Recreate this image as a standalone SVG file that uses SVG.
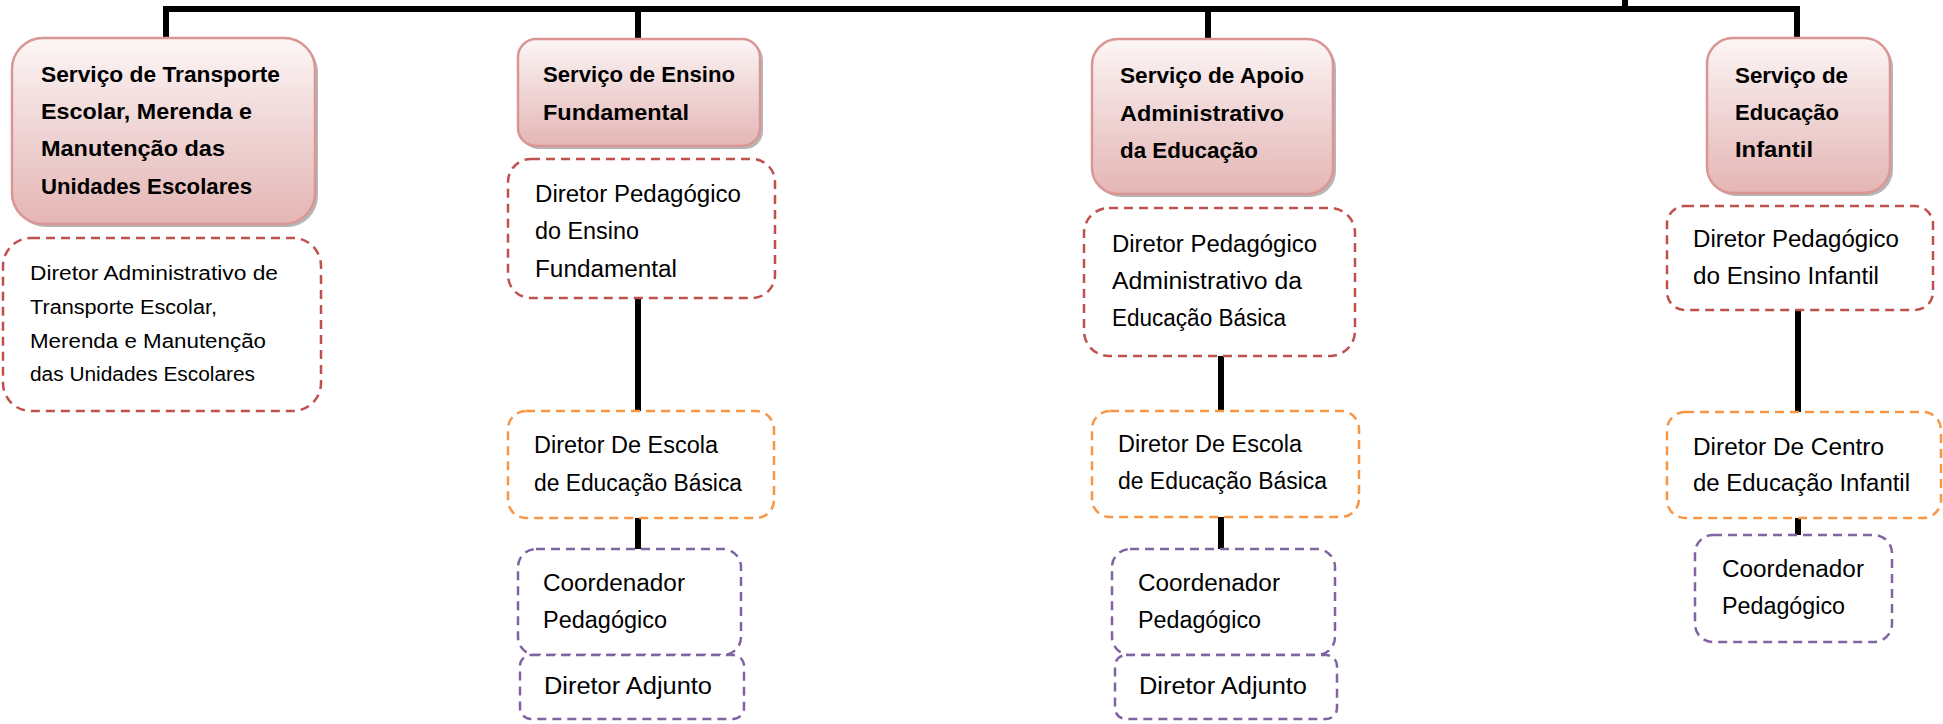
<svg xmlns="http://www.w3.org/2000/svg" width="1943" height="724" viewBox="0 0 1943 724">
<defs>
<linearGradient id="pg" x1="0" y1="0" x2="0" y2="1">
<stop offset="0" stop-color="#FDF6F6"/>
<stop offset="0.35" stop-color="#F3DEDE"/>
<stop offset="1" stop-color="#E4B6B5"/>
</linearGradient>
<style>
.svc{fill:url(#pg);stroke:#D99694;stroke-width:2.5}
.sh{fill:#9E9E9E;opacity:0.75}
.d{fill:#FFFFFF;stroke-width:2.5;stroke-dasharray:9 6}
.r{stroke:#C0504D}
.o{stroke:#F79646}
.p{stroke:#8064A2}
.b{font-family:"Liberation Sans",Arial,sans-serif;font-weight:bold;font-size:22.5px;fill:#000}
.t{font-family:"Liberation Sans",Arial,sans-serif;font-size:23px;fill:#000}
.s{font-family:"Liberation Sans",Arial,sans-serif;font-size:20px;fill:#000}
.c{stroke:#000;stroke-width:6;fill:none}
</style>
</defs>
<rect width="1943" height="724" fill="#FFFFFF"/>
<g id="connectors">
<path class="c" d="M163 9 H1800"/>
<path class="c" d="M1625 0 V9"/>
<path class="c" d="M166 9 V39"/>
<path class="c" d="M638 9 V40"/>
<path class="c" d="M1208 9 V40"/>
<path class="c" d="M1797 6 V39"/>
<path class="c" d="M638 298 V411"/>
<path class="c" d="M638 518 V549"/>
<path class="c" d="M1221 356 V411"/>
<path class="c" d="M1221 517 V549"/>
<path class="c" d="M1798 310 V412"/>
<path class="c" d="M1798 518 V535"/>
</g>
<g id="svc-transporte">
<rect class="sh" x="15" y="41" width="303" height="186" rx="31"/>
<rect class="svc" x="12" y="38" width="303" height="186" rx="31"/>
<text class="b" x="41" y="82" textLength="239" lengthAdjust="spacingAndGlyphs">Serviço de Transporte</text>
<text class="b" x="41" y="119" textLength="211" lengthAdjust="spacingAndGlyphs">Escolar, Merenda e</text>
<text class="b" x="41" y="156" textLength="184" lengthAdjust="spacingAndGlyphs">Manutenção das</text>
<text class="b" x="41" y="194" textLength="211" lengthAdjust="spacingAndGlyphs">Unidades Escolares</text>
</g>
<g id="dir-transporte">
<rect class="d r" x="3" y="238" width="318" height="173" rx="28"/>
<text class="s" x="30" y="280" textLength="248" lengthAdjust="spacingAndGlyphs">Diretor Administrativo de</text>
<text class="s" x="30" y="314" textLength="187" lengthAdjust="spacingAndGlyphs">Transporte Escolar,</text>
<text class="s" x="30" y="348" textLength="236" lengthAdjust="spacingAndGlyphs">Merenda e Manutenção</text>
<text class="s" x="30" y="381" textLength="225" lengthAdjust="spacingAndGlyphs">das Unidades Escolares</text>
</g>
<g id="svc-fundamental">
<rect class="sh" x="521" y="42" width="242" height="107" rx="18"/>
<rect class="svc" x="518" y="39" width="242" height="107" rx="18"/>
<text class="b" x="543" y="82" textLength="192" lengthAdjust="spacingAndGlyphs">Serviço de Ensino</text>
<text class="b" x="543" y="120" textLength="146" lengthAdjust="spacingAndGlyphs">Fundamental</text>
</g>
<g id="dir-ped-fundamental">
<rect class="d r" x="508" y="159" width="267" height="139" rx="23"/>
<text class="t" x="535" y="202" textLength="206" lengthAdjust="spacingAndGlyphs">Diretor Pedagógico</text>
<text class="t" x="535" y="239" textLength="104" lengthAdjust="spacingAndGlyphs">do Ensino</text>
<text class="t" x="535" y="277" textLength="142" lengthAdjust="spacingAndGlyphs">Fundamental</text>
</g>
<g id="dir-escola-fundamental">
<rect class="d o" x="508" y="411" width="266" height="107" rx="18"/>
<text class="t" x="534" y="453" textLength="184" lengthAdjust="spacingAndGlyphs">Diretor De Escola</text>
<text class="t" x="534" y="491" textLength="208" lengthAdjust="spacingAndGlyphs">de Educação Básica</text>
</g>
<g id="coord-fundamental">
<rect class="d p" x="518" y="549" width="223" height="106" rx="18"/>
<text class="t" x="543" y="591" textLength="142" lengthAdjust="spacingAndGlyphs">Coordenador</text>
<text class="t" x="543" y="628" textLength="124" lengthAdjust="spacingAndGlyphs">Pedagógico</text>
</g>
<g id="adjunto-fundamental">
<rect class="d p" x="520" y="655" width="224" height="64" rx="11"/>
<text class="t" x="544" y="694" textLength="168" lengthAdjust="spacingAndGlyphs">Diretor Adjunto</text>
</g>
<g id="svc-apoio">
<rect class="sh" x="1095" y="42" width="241" height="155" rx="26"/>
<rect class="svc" x="1092" y="39" width="241" height="155" rx="26"/>
<text class="b" x="1120" y="83" textLength="184" lengthAdjust="spacingAndGlyphs">Serviço de Apoio</text>
<text class="b" x="1120" y="121" textLength="164" lengthAdjust="spacingAndGlyphs">Administrativo</text>
<text class="b" x="1120" y="158" textLength="138" lengthAdjust="spacingAndGlyphs">da Educação</text>
</g>
<g id="dir-ped-apoio">
<rect class="d r" x="1084" y="208" width="271" height="148" rx="25"/>
<text class="t" x="1112" y="252" textLength="205" lengthAdjust="spacingAndGlyphs">Diretor Pedagógico</text>
<text class="t" x="1112" y="289" textLength="190" lengthAdjust="spacingAndGlyphs">Administrativo da</text>
<text class="t" x="1112" y="326" textLength="174" lengthAdjust="spacingAndGlyphs">Educação Básica</text>
</g>
<g id="dir-escola-apoio">
<rect class="d o" x="1092" y="411" width="267" height="106" rx="18"/>
<text class="t" x="1118" y="452" textLength="184" lengthAdjust="spacingAndGlyphs">Diretor De Escola</text>
<text class="t" x="1118" y="489" textLength="209" lengthAdjust="spacingAndGlyphs">de Educação Básica</text>
</g>
<g id="coord-apoio">
<rect class="d p" x="1112" y="549" width="223" height="106" rx="18"/>
<text class="t" x="1138" y="591" textLength="142" lengthAdjust="spacingAndGlyphs">Coordenador</text>
<text class="t" x="1138" y="628" textLength="123" lengthAdjust="spacingAndGlyphs">Pedagógico</text>
</g>
<g id="adjunto-apoio">
<rect class="d p" x="1115" y="655" width="222" height="64" rx="11"/>
<text class="t" x="1139" y="694" textLength="168" lengthAdjust="spacingAndGlyphs">Diretor Adjunto</text>
</g>
<g id="svc-infantil">
<rect class="sh" x="1710" y="41" width="183" height="155" rx="26"/>
<rect class="svc" x="1707" y="38" width="183" height="155" rx="26"/>
<text class="b" x="1735" y="83" textLength="113" lengthAdjust="spacingAndGlyphs">Serviço de</text>
<text class="b" x="1735" y="120" textLength="104" lengthAdjust="spacingAndGlyphs">Educação</text>
<text class="b" x="1735" y="157" textLength="78" lengthAdjust="spacingAndGlyphs">Infantil</text>
</g>
<g id="dir-ped-infantil">
<rect class="d r" x="1667" y="206" width="266" height="104" rx="18"/>
<text class="t" x="1693" y="247" textLength="206" lengthAdjust="spacingAndGlyphs">Diretor Pedagógico</text>
<text class="t" x="1693" y="284" textLength="186" lengthAdjust="spacingAndGlyphs">do Ensino Infantil</text>
</g>
<g id="dir-centro-infantil">
<rect class="d o" x="1667" y="412" width="274" height="106" rx="18"/>
<text class="t" x="1693" y="455" textLength="191" lengthAdjust="spacingAndGlyphs">Diretor De Centro</text>
<text class="t" x="1693" y="491" textLength="217" lengthAdjust="spacingAndGlyphs">de Educação Infantil</text>
</g>
<g id="coord-infantil">
<rect class="d p" x="1695" y="535" width="197" height="107" rx="18"/>
<text class="t" x="1722" y="577" textLength="142" lengthAdjust="spacingAndGlyphs">Coordenador</text>
<text class="t" x="1722" y="614" textLength="123" lengthAdjust="spacingAndGlyphs">Pedagógico</text>
</g>
</svg>
